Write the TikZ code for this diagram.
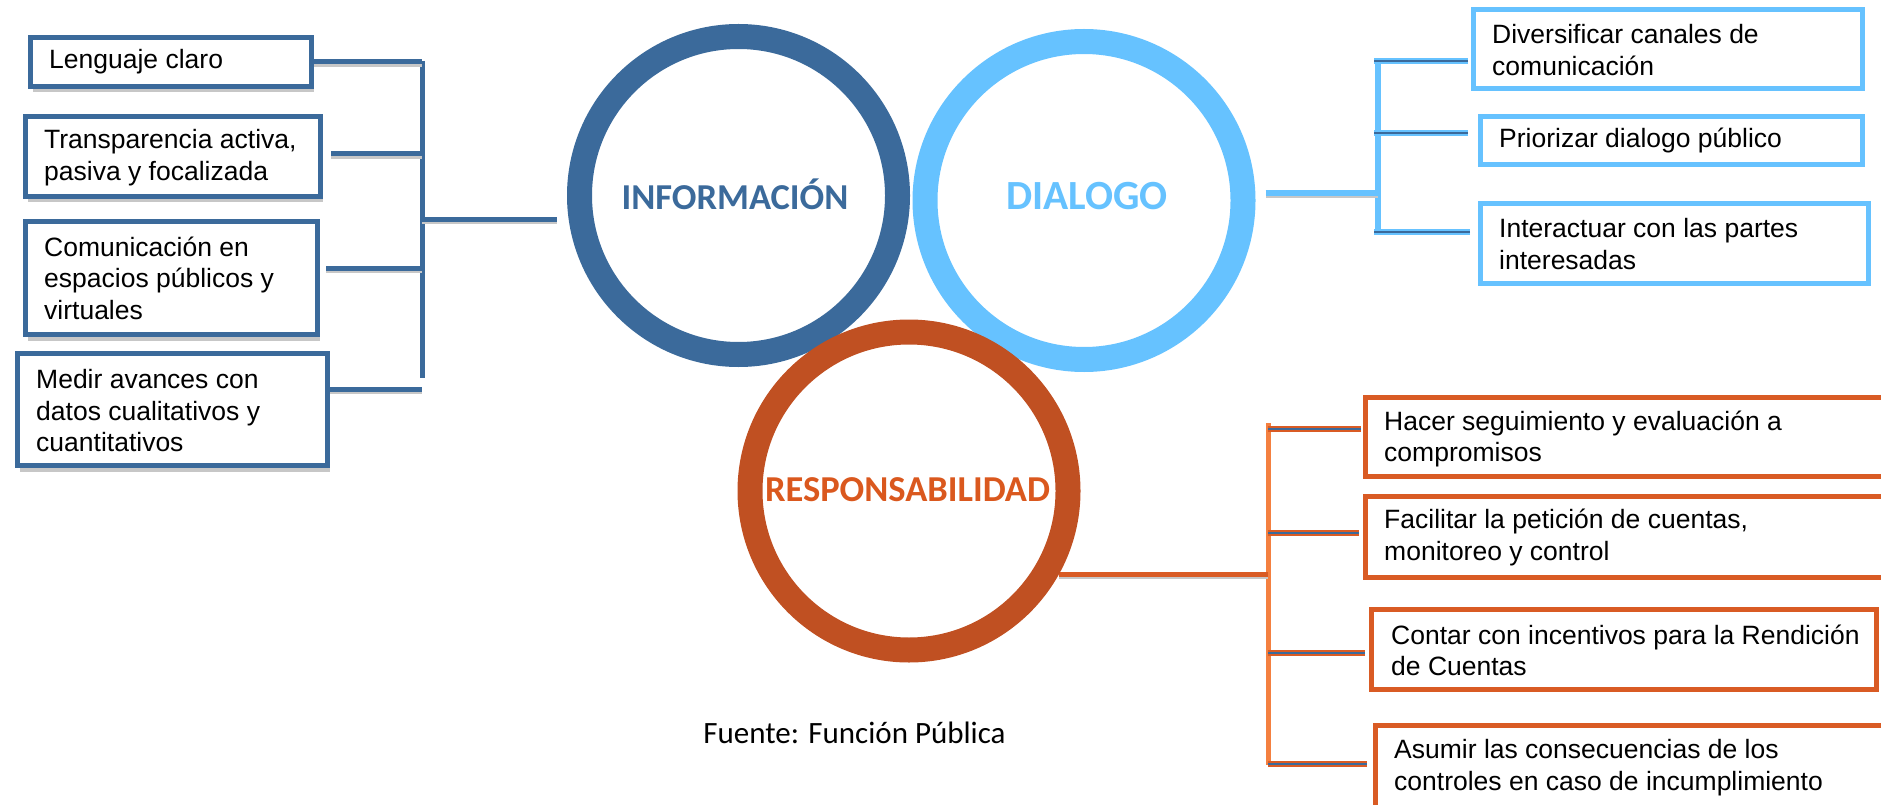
\documentclass[tikz,border=0pt]{standalone}
\usepackage{fontspec}
\setmainfont{Liberation Sans}
\newfontfamily\calib{Carlito}
\usetikzlibrary{shadows,backgrounds}
\definecolor{dblue}{HTML}{3B6A9B}
\definecolor{lblue}{HTML}{66C2FF}
\definecolor{oring}{HTML}{C05022}
\definecolor{otext}{HTML}{DA581E}
\definecolor{obox}{HTML}{D95B24}
\definecolor{overt}{HTML}{F48040}
\tikzset{
  lbox/.style={draw=dblue, line width=5pt, fill=white, rectangle, inner sep=0pt,
    drop shadow={shadow xshift=2pt, shadow yshift=-6pt, opacity=0.22, fill=black}},
  dbox/.style={draw=lblue, line width=5pt, fill=white, rectangle, inner sep=0pt},
  obx/.style={draw=obox, line width=5pt, fill=white, rectangle, inner sep=0pt},
  btext/.style={anchor=west, inner sep=0pt, align=left, font=\fontsize{26.5}{31.5}\selectfont},
  ring/.style={circle, line width=25pt, minimum size=318pt, inner sep=0pt},
  ctext/.style={anchor=base, inner sep=0pt},
  shd/.style={preaction={draw=black!22, line width=4pt, transform canvas={yshift=-3pt}}},
  bline/.style={draw=dblue, line width=5pt},
  lbvert/.style={draw=lblue, line width=6pt},
  lbranch/.style={draw=lblue, line width=6pt, postaction={draw=dblue, line width=2pt}},
  overt/.style={draw=overt, line width=5pt},
  obranch/.style={draw=obox, line width=6pt, postaction={draw=dblue, line width=2pt}},
}
\begin{document}
\begin{tikzpicture}[x=1pt,y=-1pt]
\useasboundingbox (0,0) rectangle (1881,805);
\clip (0,0) rectangle (1881,805);

% circles
\node[ring, draw=dblue] (info) at (738.5,195.5) {};
\node[ring, draw=lblue] (dia) at (1084,200.5) {};
\node[ring, draw=oring] (resp) at (909,491) {};
\node[ctext, font=\calib\bfseries\fontsize{36.5}{40}\selectfont, text=dblue] (infot) at (735,210) {INFORMACIÓN};
\node[ctext, font=\calib\bfseries\fontsize{41.5}{45}\selectfont, text=lblue] (diat) at (1087,209) {DIALOGO};
\node[ctext, font=\calib\bfseries\fontsize{36.5}{40}\selectfont, text=otext] (respt) at (907.5,501) {RESPONSABILIDAD};
\node[ctext, font=\calib\fontsize{31}{35}\selectfont] (fuente) at (854.5,743) {Fuente: Función Pública};

% left boxes
\node[lbox, minimum width=281pt, minimum height=49pt] (b1) at (171,62) {};
\node[lbox, minimum width=295pt, minimum height=80pt] (b2) at (173,156.5) {};
\node[lbox, minimum width=292pt, minimum height=113pt] (b3) at (171.5,278) {};
\node[lbox, minimum width=310pt, minimum height=112pt] (b4) at (172.5,409.5) {};
\node[btext] (b1t) at (49,62) {Lenguaje claro};
\node[btext] (b2t) at (44,157.5) {Transparencia activa,\\pasiva y focalizada};
\node[btext] (b3t) at (44,278) {Comunicación en\\espacios públicos y\\virtuales};
\node[btext] (b4t) at (36,411) {Medir avances con\\datos cualitativos y\\cuantitativos};

% right blue boxes
\node[dbox, minimum width=389pt, minimum height=79pt] (d1) at (1668,49) {};
\node[dbox, minimum width=382pt, minimum height=48pt] (d2) at (1671.5,140.5) {};
\node[dbox, minimum width=388pt, minimum height=80pt] (d3) at (1674.5,243.5) {};
\node[btext] (d1t) at (1492,50) {Diversificar canales de\\comunicación};
\node[btext] (d2t) at (1499,140.5) {Priorizar dialogo público};
\node[btext] (d3t) at (1499,244) {Interactuar con las partes\\interesadas};

% orange boxes
\node[obx, minimum width=526.5pt, minimum height=79pt] (o1) at (1628.75,437) {};
\node[obx, minimum width=526.5pt, minimum height=81pt] (o2) at (1628.75,537) {};
\node[obx, minimum width=505pt, minimum height=80pt] (o3) at (1624,649.5) {};
\node[obx, minimum width=516.5pt, minimum height=84pt] (o4) at (1633.75,767.5) {};
\node[btext] (o1t) at (1384,439) {Hacer seguimiento y evaluación a\\compromisos};
\node[btext] (o2t) at (1384,537.5) {Facilitar la petición de cuentas,\\monitoreo y control};
\node[btext] (o3t) at (1391,650.5) {Contar con incentivos para la Rendición\\de Cuentas};
\node[btext] (o4t) at (1394,767.5) {Asumir las consecuencias de los\\controles en caso de incumplimiento};

\begin{scope}[on background layer]
% left bracket
\coordinate (lt) at (422,61);
\coordinate (lbm) at (422,219);
\coordinate (lbb) at (422,378);
\coordinate (b1s) at (b1.east);
\coordinate (b2s) at ([xshift=8pt,yshift=2.5pt]b2.east);
\coordinate (b3s) at ([xshift=6pt,yshift=10pt]b3.east);
\coordinate (b4s) at ([xshift=-5pt,yshift=20.5pt]b4.east);
\coordinate (lme) at (info.west |- lbm);
\draw[bline] (lt) -- (lbb);
\draw[bline, shd] (b1s) -- (b1s -| lt);
\draw[bline, shd] (b2s) -- (b2s -| lt);
\draw[bline, shd] (b3s) -- (b3s -| lt);
\draw[bline, shd] (b4s) -- (b4s -| lt);
\draw[bline, shd] (lbm) -- ([xshift=-10pt]lme);

% right blue bracket
\coordinate (rt) at (1378,61);
\coordinate (rm) at (1378,193);
\coordinate (rb) at (1378,232);
\coordinate (rx) at (1374,0);
\coordinate (d1s) at ([xshift=-3pt,yshift=-12pt]d1.west);
\coordinate (d2s) at ([xshift=-10pt,yshift=7.5pt]d2.west);
\coordinate (d3s) at ([xshift=-8pt,yshift=11.5pt]d3.west);
\coordinate (dm0) at (dia.east |- rm);
\draw[lbvert] (rt) -- (rb);
\draw[lbranch] (d1s) -- (d1s -| rx);
\draw[lbranch] (d2s) -- (d2s -| rx);
\draw[lbranch] (d3s) -- (d3s -| rx);
\draw[lbvert, shd] ([xshift=10pt]dm0) -- (rm);

% orange bracket
\coordinate (ot) at (1268,423);
\coordinate (om) at (1268,576);
\coordinate (ob) at (1268,765);
\coordinate (o1s) at ([xshift=-2pt,yshift=8pt]o1.west);
\coordinate (o2s) at ([xshift=-4pt,yshift=4pt]o2.west);
\coordinate (o3s) at ([xshift=-4pt,yshift=-3.5pt]o3.west);
\coordinate (o4s) at ([xshift=-6pt,yshift=3.5pt]o4.west);
\coordinate (rs) at (resp.-29.7);
\draw[overt] (ot) -- (ob);
\draw[obranch] (o1s) -- (o1s -| ot);
\draw[obranch] (o2s) -- (o2s -| ot);
\draw[obranch] (o3s) -- (o3s -| ot);
\draw[obranch] (o4s) -- (o4s -| ot);
\draw[draw=obox, line width=5pt, shd] (rs) -- (rs -| om);
\end{scope}
\end{tikzpicture}
\end{document}
